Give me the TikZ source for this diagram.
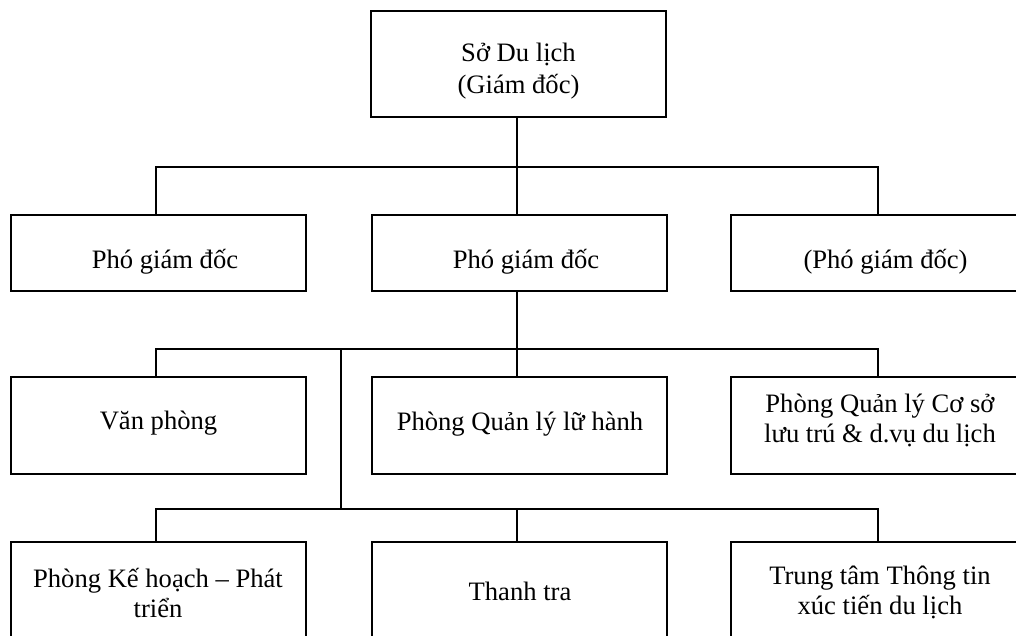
\documentclass[tikz,border=0pt]{standalone}
\usepackage{fontspec}
\setmainfont{Liberation Serif}
\begin{document}
\begin{tikzpicture}[x=1pt,y=-1pt,
  box/.style={draw, line width=1.8pt, minimum width=295pt, inner sep=0pt, outer sep=0pt},
  lbl/.style={anchor=base, align=center, inner sep=0pt,
    font=\fontsize{26.6}{30}\selectfont},
  conn/.style={line width=1.8pt, line join=miter}]
\useasboundingbox (0,0) rectangle (1016,636);
\clip (0,0) rectangle (1016,636);
\fill[white] (0,0) rectangle (1016,636);

% boxes
\node[box, minimum height=106pt] (top) at (518.5,64) {};
\node[box, minimum height=76pt] (pg1) at (158.5,253) {};
\node[box, minimum height=76pt] (pg2) at (519.5,253) {};
\node[box, minimum height=76pt] (pg3) at (878.5,253) {};
\node[box, minimum height=97pt] (vp)  at (158.5,425.5) {};
\node[box, minimum height=97pt] (lh)  at (519.5,425.5) {};
\node[box, minimum height=97pt] (lt)  at (878.5,425.5) {};
\node[box, minimum height=97pt] (kh)  at (158.5,590.5) {};
\node[box, minimum height=97pt] (tt)  at (519.5,590.5) {};
\node[box, minimum height=97pt] (tc)  at (878.5,590.5) {};

% texts (base anchor sits on the last line)
\node[lbl] (ttop) at (518.5,93.5) {Sở Du lịch\\[1.5pt](Giám đốc)};
\node[lbl] (tpg1) at (165,268) {Phó giám đốc};
\node[lbl] (tpg2) at (526,268) {Phó giám đốc};
\node[lbl] (tpg3) at (885.5,268) {(Phó giám đốc)};
\node[lbl] (tvp)  at (158.5,429) {Văn phòng};
\node[lbl] (tlh)  at (520,430) {Phòng Quản lý lữ hành};
\node[lbl] (tlt)  at (880,442) {Phòng Quản lý Cơ sở\\lưu trú \& d.vụ du lịch};
\node[lbl] (tkh)  at (158,617) {Phòng Kế hoạch – Phát\\triển};
\node[lbl] (ttt)  at (520,600) {Thanh tra};
\node[lbl] (ttc)  at (880,614) {Trung tâm Thông tin\\xúc tiến du lịch};

% bus levels
\coordinate (bA) at (0,167);
\coordinate (bB) at (0,349);
\coordinate (bC) at (0,509);

% director to deputies
\draw[conn] ([xshift=-1.5pt]top.south) -- ([xshift=-2.5pt]pg2.north);
\draw[conn] ([xshift=-2.5pt]pg1.north) |- ([xshift=-0.5pt]pg3.north |- bA)
            -- ([xshift=-0.5pt]pg3.north);

% deputy to departments
\draw[conn] ([xshift=-2.5pt]pg2.south) -- ([xshift=-2.5pt]lh.north);
\draw[conn] ([xshift=-2.5pt]vp.north) |- ([xshift=-0.5pt]lt.north |- bB)
            -- ([xshift=-0.5pt]lt.north);
\coordinate (sp1) at (341,349);
\coordinate (sp2) at (341,509);
\draw[conn, line width=2.2pt] (sp1) -- (sp2);
\draw[conn] ([xshift=-2.5pt]kh.north) |- ([xshift=-0.5pt]tc.north |- bC)
            -- ([xshift=-0.5pt]tc.north);
\draw[conn] ([xshift=-2.5pt]tt.north) -- ([xshift=-2.5pt]tt.north |- bC);
\end{tikzpicture}
\end{document}
